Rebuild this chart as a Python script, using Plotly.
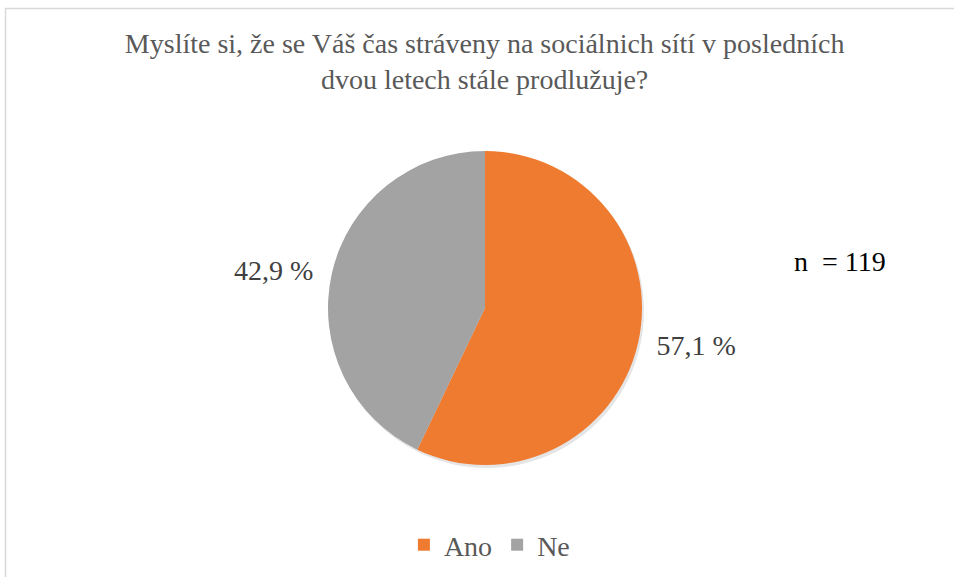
import plotly.graph_objects as go

categories = ["Ano", "Ne"]
values = [57.1, 42.9]
colors = ["#EE7B30", "#A3A3A3"]
title_text = "Myslíte si, že se Váš čas stráveny na sociálnich sítí v posledních<br>dvou letech stále prodlužuje?"
n_text = "n\u00a0 = 119"

W, H = 954, 577
SERIF = "serif"
FS = 28
labels_text = [f"{v:.1f}".replace(".", ",") + " %" for v in values]


def dom(cx, cy, r):
    return dict(x=[(cx - r) / W, (cx + r) / W], y=[(H - cy - r) / H, (H - cy + r) / H])


fig = go.Figure()
# soft shadow behind the pie
fig.add_trace(go.Pie(
    labels=categories, values=values, textinfo="none",
    marker=dict(colors=["rgba(0,0,0,0.10)"] * 2, line=dict(width=0)), sort=False,
    direction="clockwise", rotation=0, domain=dom(487, 311, 157), showlegend=False, hoverinfo="skip",
))
# transparent helper pie carrying the outside labels a bit further out
fig.add_trace(go.Pie(
    labels=categories, values=values, text=labels_text, textinfo="text", textposition="outside",
    textfont=dict(family=SERIF, size=FS, color="#404040"),
    marker=dict(colors=["rgba(0,0,0,0)"] * 2, line=dict(width=0)), sort=False, direction="clockwise",
    rotation=0, domain=dom(485, 308, 168), showlegend=False, hoverinfo="skip",
))
# visible pie
fig.add_trace(go.Pie(
    labels=categories, values=values, textinfo="none",
    marker=dict(colors=colors, line=dict(width=0)), sort=False, direction="clockwise", rotation=0,
    domain=dom(485, 308, 157),
))

fig.update_layout(
    width=W, height=H, margin=dict(l=0, r=0, t=0, b=0),
    paper_bgcolor="white",
    title=dict(text=title_text, x=0.508, xanchor="center", y=1 - 53 / H, yanchor="middle",
               font=dict(family=SERIF, size=FS, color="#595959")),
    legend=dict(orientation="h", x=0.513, xanchor="center", y=1 - 545 / H, yanchor="middle",
                font=dict(family=SERIF, size=FS, color="#595959")),
    annotations=[dict(text=n_text, x=840 / W, y=1 - 262 / H, xref="paper", yref="paper", showarrow=False,
                      xanchor="center", yanchor="middle",
                      font=dict(family=SERIF, size=FS, color="#000000"))],
    shapes=[dict(type="rect", xref="paper", yref="paper",
                 x0=5.5 / W, x1=1.05, y0=-0.05, y1=1 - 8.5 / H,
                 line=dict(color="#D9D9D9", width=1.5), fillcolor="rgba(0,0,0,0)")],
)
fig.write_html("out.html", config={"displayModeBar": False},
               post_script="document.body.style.margin='0';document.body.style.overflow='hidden';")
